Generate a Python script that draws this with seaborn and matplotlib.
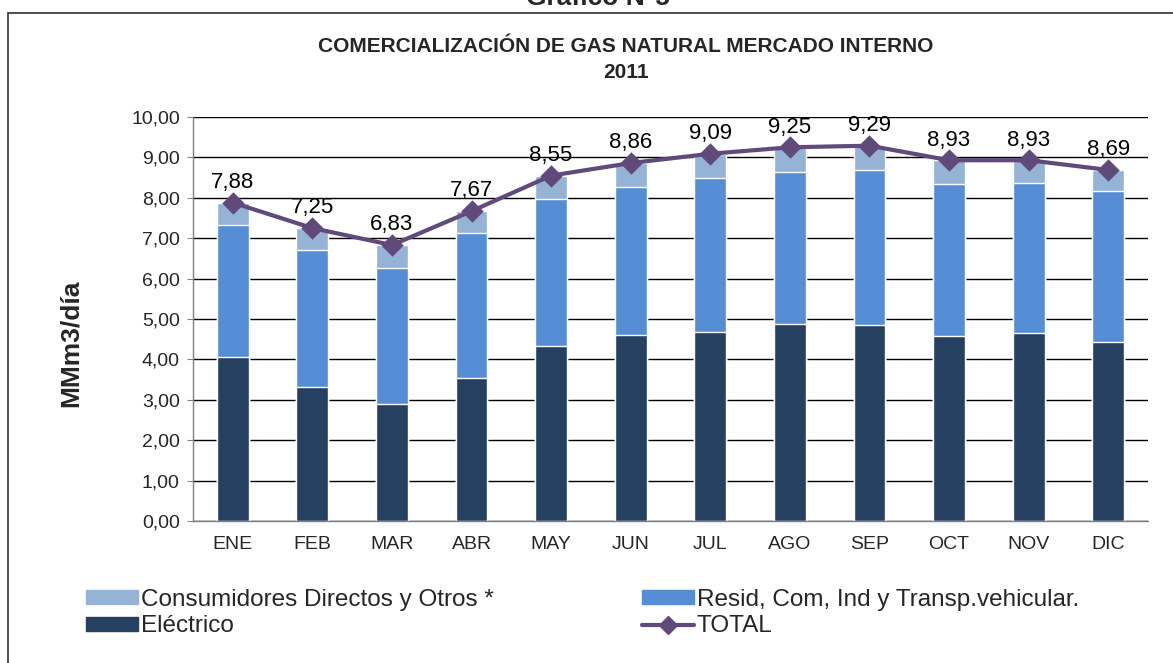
import matplotlib
matplotlib.use("Agg")
import matplotlib.pyplot as plt
import matplotlib.patches as mpatches
from matplotlib.lines import Line2D
import seaborn as sns
import numpy as np

# datos (MMm3/dia)
meses = ["ENE", "FEB", "MAR", "ABR", "MAY", "JUN", "JUL", "AGO", "SEP", "OCT", "NOV", "DIC"]
electrico = [4.06, 3.32, 2.90, 3.54, 4.33, 4.60, 4.68, 4.88, 4.85, 4.57, 4.65, 4.44]
resid = [3.27, 3.39, 3.37, 3.58, 3.64, 3.67, 3.82, 3.77, 3.84, 3.76, 3.72, 3.74]
total = [7.88, 7.25, 6.83, 7.67, 8.55, 8.86, 9.09, 9.25, 9.29, 8.93, 8.93, 8.69]
otros = [t - e - r for t, e, r in zip(total, electrico, resid)]

C_ELEC = "#254061"
C_RESID = "#558ED5"
C_OTROS = "#95B3D7"
C_TOTAL = "#604A7B"

sns.set_style("white")
plt.rcParams['font.family'] = ['Liberation Sans', 'DejaVu Sans']

fig = plt.figure(figsize=(11.73, 6.63), dpi=100)
ax = fig.add_axes([193/1173, 1 - 521/663, (1148 - 193)/1173, (521 - 117)/663])

# barras apiladas: se dibuja de arriba hacia abajo
cum_resid = np.array(electrico) + np.array(resid)
cum_total = cum_resid + np.array(otros)
sns.barplot(x=meses, y=cum_total, color=C_OTROS, width=0.4, saturation=1, ax=ax, zorder=2)
sns.barplot(x=meses, y=cum_resid, color=C_RESID, width=0.4, saturation=1, ax=ax, zorder=2)
sns.barplot(x=meses, y=electrico, color=C_ELEC, width=0.4, saturation=1, ax=ax, zorder=2)

sns.pointplot(x=meses, y=total, color=C_TOTAL, marker="D", markersize=9,
              linewidth=3, ax=ax, zorder=4)

for i, v in enumerate(total):
    ax.annotate(f"{v:.2f}".replace(".", ","), (i, v), xytext=(0, 7),
                textcoords="offset points", ha="center", va="bottom",
                fontsize=16, color="black", zorder=5)

ax.set_ylim(0, 10)
ax.set_xlim(-0.5, 11.5)
ax.set_yticks(np.arange(0, 11, 1))
ax.set_yticklabels([f"{v:.2f}".replace(".", ",") for v in np.arange(0, 11, 1)], fontsize=14)
ax.set_xticks(range(12))
ax.set_xticklabels(meses, fontsize=14)
ax.set_xticks(np.arange(-0.5, 12, 1), minor=True)
ax.tick_params(axis="x", which="major", length=0, pad=11)
ax.tick_params(axis="x", which="minor", length=5, color="#808080", direction="out")
ax.tick_params(axis="y", length=4.5, color="#808080", direction="out", pad=5, left=True)
ax.grid(axis="y", color="black", linewidth=1, zorder=0)
ax.set_axisbelow(True)
ax.set_xlabel("")
ax.set_ylabel("MMm3/día", fontsize=19, fontweight="bold")
ax.yaxis.set_label_coords(-0.115, 0.44)
for s in ["top", "right"]:
    ax.spines[s].set_visible(False)
for s in ["left", "bottom"]:
    ax.spines[s].set_color("#808080")
    ax.spines[s].set_linewidth(1)

# titulos
fig.text(598/1173, 1 + 2/663, "Gráfico N°5", ha="center", va="center",
         fontsize=19, fontweight="bold")
fig.text(626/1173, 1 - 47/663, "COMERCIALIZACIÓN DE GAS NATURAL MERCADO INTERNO",
         ha="center", va="center", fontsize=15, fontweight="bold")
fig.text(626/1173, 1 - 72/663, "2011", ha="center", va="center",
         fontsize=15, fontweight="bold")

# marco del grafico
frame = mpatches.Rectangle((8/1173, -0.1), 1.1, 1.1 - 13/663, transform=fig.transFigure,
                           fill=False, edgecolor="#404040", linewidth=1.3)
fig.patches.append(frame)

handles = [
    mpatches.Patch(color=C_OTROS, label="Consumidores Directos y Otros *"),
    mpatches.Patch(color=C_ELEC, label="Eléctrico"),
    mpatches.Patch(color=C_RESID, label="Resid, Com, Ind y Transp.vehicular."),
    Line2D([0], [0], color=C_TOTAL, lw=3, marker="D", markersize=9, label="TOTAL"),
]
fig.legend(handles=handles, ncol=2, loc="center left", bbox_to_anchor=(86/1173, 1 - 613/663),
           frameon=False, fontsize=17.5, handlelength=2.15, handleheight=0.5,
           handletextpad=0.1, columnspacing=6.1, labelspacing=0.2, borderaxespad=0,
           borderpad=0)

fig.savefig("out.png", dpi=100)
